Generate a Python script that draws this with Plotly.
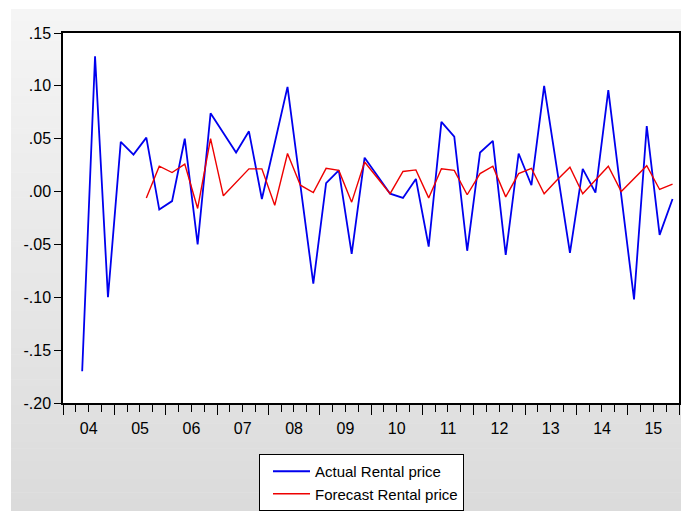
import pandas as pd
import plotly.graph_objects as go

# ---- data ----
actual_start = "2004Q2"
actual = [-0.170, 0.128, -0.100,
          0.047, 0.035, 0.051, -0.017,
          -0.009, 0.050, -0.050, 0.074,
          0.056, 0.037, 0.057, -0.007,
          0.046, 0.099, 0.006, -0.087,
          0.008, 0.020, -0.059, 0.032,
          0.015, -0.002, -0.006, 0.012,
          -0.052, 0.066, 0.052, -0.056,
          0.037, 0.048, -0.060, 0.036,
          0.006, 0.100, 0.021, -0.058,
          0.0215, -0.001, 0.096, -0.004,
          -0.102, 0.062, -0.041, -0.007]

forecast_start = "2005Q3"
forecast = [-0.006, 0.024,
            0.018, 0.026, -0.016, 0.050,
            -0.004, 0.009, 0.0215, 0.0215,
            -0.013, 0.036, 0.006, -0.001,
            0.022, 0.020, -0.010, 0.028,
            0.013, -0.002, 0.019, 0.0205,
            -0.006, 0.0215, 0.020, -0.003,
            0.017, 0.024, -0.005, 0.017,
            0.022, -0.002, 0.011, 0.023,
            -0.002, 0.011, 0.024, 0.000,
            0.012, 0.0245, 0.002, 0.007]

y_tickvals = [-0.20, -0.15, -0.10, -0.05, 0.00, 0.05, 0.10, 0.15]
y_ticktext = ["-.20", "-.15", "-.10", "-.05", ".00", ".05", ".10", ".15"]


def quarter_mids(start, n):
    per = pd.period_range(start=start, periods=n, freq="Q")
    return [p.start_time + (p.end_time - p.start_time) / 2 for p in per]


x_act = quarter_mids(actual_start, len(actual))
x_fc = quarter_mids(forecast_start, len(forecast))

W, H = 681, 513
L, R, T, B = 63, 2, 33, 110
pw, ph = W - L - R, H - T - B


def px2x(px):
    return (px - L) / pw


def py2y(py):
    return (H - B - py) / ph


fig = go.Figure()
fig.add_trace(go.Scatter(x=x_act, y=actual, mode="lines", name="Actual Rental price",
                         line=dict(color="#0000ee", width=1.8)))
fig.add_trace(go.Scatter(x=x_fc, y=forecast, mode="lines", name="Forecast Rental price",
                         line=dict(color="#ee0000", width=1.4)))

# gradient grey panel behind everything
shapes = []
top_px, bot_px, left_px, right_px = 9, 511, 11, 681
nstrip = 80
c_top, c_bot = 245, 219
for i in range(nstrip):
    y0 = top_px + (bot_px - top_px) * i / nstrip
    y1 = top_px + (bot_px - top_px) * (i + 1) / nstrip + 0.6
    c = round(c_top + (c_bot - c_top) * i / (nstrip - 1))
    shapes.append(dict(type="rect", xref="paper", yref="paper", layer="below",
                       x0=px2x(left_px), x1=px2x(right_px), y0=py2y(min(y1, bot_px)), y1=py2y(y0),
                       fillcolor=f"rgb({c},{c},{c})", line=dict(width=0)))
# white plotting area
shapes.append(dict(type="rect", xref="paper", yref="paper", layer="below",
                   x0=0, x1=1, y0=0, y1=1, fillcolor="white", line=dict(width=0)))

font = dict(family="Arial, Liberation Sans, sans-serif", size=16, color="black")
legend_font = dict(family="Arial, Liberation Sans, sans-serif", size=15, color="black")

fig.update_layout(
    width=W, height=H,
    margin=dict(l=L, r=R, t=T, b=B, autoexpand=False),
    paper_bgcolor="white",
    plot_bgcolor="rgba(0,0,0,0)",
    font=font,
    shapes=shapes,
    showlegend=True,
    legend=dict(x=px2x(259), y=py2y(454), xanchor="left", yanchor="top",
                bgcolor="white", bordercolor="black", borderwidth=1,
                font=legend_font, tracegroupgap=0, itemwidth=37, indentation=8),
    xaxis=dict(type="date", range=["2004-01-01", "2016-01-01"],
               tick0="2004-01-01", dtick="M12", tickformat="%y",
               ticklabelmode="period", ticks="outside", ticklen=10, tickwidth=1,
               tickcolor="black", automargin=False,
               minor=dict(dtick="M3", ticks="outside", ticklen=7, tickwidth=1,
                          tickcolor="black", showgrid=False),
               showgrid=False, zeroline=False, showline=True, linecolor="black",
               linewidth=1.5, mirror=True, tickfont=font),
    yaxis=dict(range=[-0.20, 0.15], tickvals=y_tickvals, ticktext=y_ticktext,
               ticks="outside", ticklen=7, tickwidth=1, tickcolor="black",
               automargin=False,
               showgrid=False, zeroline=False, showline=True, linecolor="black",
               linewidth=1.5, mirror=True, tickfont=font),
)

fig.write_html("out.html", config={"displayModeBar": False},
               post_script="document.body.style.margin='0';document.body.style.overflow='hidden';")
